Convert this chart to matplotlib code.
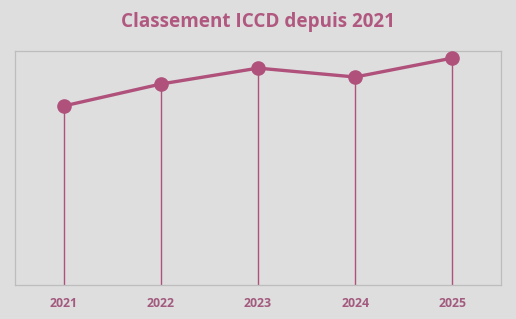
import numpy as np
import matplotlib.pyplot as plt

years = ['2021', '2022', '2023', '2024', '2025']
scores = [76.5, 85.9, 92.7, 88.9, 97.0]

LINE = '#B0517C'
BG = '#DEDEDE'

fig = plt.figure(figsize=(5.16, 3.19), dpi=100, facecolor=BG)
ax = fig.add_axes([0.029, 0.1066, 0.942, 0.7334])
ax.set_facecolor(BG)

x = np.arange(len(years))
ax.vlines(x, 0, scores, color=LINE, lw=1.0, zorder=2)
ax.plot(x, scores, color=LINE, lw=2.4, marker='o', markersize=9.5,
        solid_capstyle='round', zorder=3)

ax.set_xlim(-0.5, len(years) - 0.5)
ax.set_ylim(0, 100)
ax.set_yticks([])
ax.set_xticks(x)
ax.set_xticklabels(years, fontsize=8.8, fontweight='bold', color='#A25A7E',
                   family='Open Sans')
ax.tick_params(axis='x', length=0, pad=9)
for s in ax.spines.values():
    s.set_color('#BDBDBD')
    s.set_linewidth(0.9)

fig.text(0.5, 0.93, 'Classement ICCD depuis 2021', ha='center', va='center',
         fontsize=13.6, fontweight='bold', color='#B0587F', family='Open Sans')

fig.savefig('out.png', dpi=100, facecolor=BG)
